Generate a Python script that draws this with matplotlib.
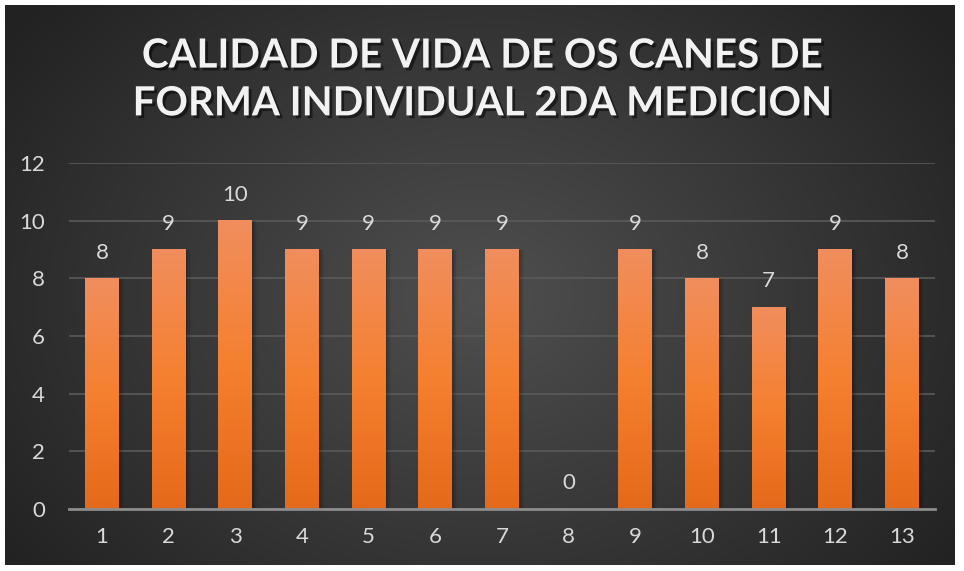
import numpy as np
import matplotlib
matplotlib.use('Agg')
from matplotlib import pyplot as plt
from matplotlib import patheffects as pe
from matplotlib.colors import LinearSegmentedColormap
from matplotlib.patches import Rectangle

# datos
categorias = [str(i) for i in range(1, 14)]
valores = [8, 9, 10, 9, 9, 9, 9, 0, 9, 8, 7, 9, 8]
titulo = 'CALIDAD DE VIDA DE OS CANES DE\nFORMA INDIVIDUAL 2DA MEDICION'
yticks = [0, 2, 4, 6, 8, 10, 12]

plt.rcParams['font.family'] = ['Lato', 'DejaVu Sans']
txt_col = '#D9D9D9'

fig = plt.figure(figsize=(9.64, 5.71), dpi=100, facecolor='white')

# fondo con gradiente radial
bg = fig.add_axes([5/964, 6/571, 950/964, 560/571])
bg.set_axis_off()
h, w = 280, 475
yy, xx = np.mgrid[0:h, 0:w]
cx, cy = w*0.50, h*0.52
r = np.sqrt(((xx-cx)/(w*0.62))**2 + ((yy-cy)/(h*0.80))**2)
r = np.clip(r, 0, 1)
c0 = np.array([0x4f, 0x4f, 0x4f])/255
c1 = np.array([0x22, 0x22, 0x22])/255
img = c0[None, None, :]*(1-r[..., None]) + c1[None, None, :]*r[..., None]
bg.imshow(img, aspect='auto', extent=[0, 1, 0, 1], interpolation='bicubic')
bg.set_xlim(0, 1); bg.set_ylim(0, 1)

ax = fig.add_axes([68.7/964, 1-509/571, (935.3-68.7)/964, (509-163)/571])
ax.patch.set_alpha(0)
x = np.arange(1, 14)
bars = ax.bar(x, valores, width=0.51, color='none', zorder=3)
ax.set_xlim(0.5, 13.5)
ax.set_ylim(0, 12)

cmap = LinearSegmentedColormap.from_list('nar', ['#E5691A', '#F5802F', '#F18E5E'])
grad = np.linspace(0, 1, 256).reshape(-1, 1)
for b in bars:
    hgt = b.get_height()
    if hgt <= 0:
        continue
    x0, wd = b.get_x(), b.get_width()
    # sombra suave
    for k, a in enumerate([0.10, 0.08, 0.06, 0.04]):
        d = 0.02 + k*0.02
        ax.add_patch(Rectangle((x0 + d, 0), wd, hgt - d*0.4, color='black',
                               alpha=a, lw=0, zorder=2))
    ax.imshow(grad, cmap=cmap, origin='lower', aspect='auto',
              extent=[x0, x0 + wd, 0, hgt], zorder=3)
    ax.set_xlim(0.5, 13.5)
    ax.set_ylim(0, 12)

for xi, v in zip(x, valores):
    ax.annotate(str(v), (xi, v), xytext=(0, 18.5), textcoords='offset points',
                ha='center', va='center', color=txt_col, fontsize=16, zorder=5)

ax.set_yticks(yticks)
ax.set_xticks(x)
ax.set_xticklabels(categorias)
ax.tick_params(axis='both', length=0, colors=txt_col, labelsize=16)
ax.tick_params(axis='y', pad=17)
ax.tick_params(axis='x', pad=13)
ax.grid(axis='y', color='#5a5a5a', lw=1.2, zorder=1)
for s in ['top', 'right', 'left']:
    ax.spines[s].set_visible(False)
ax.spines['bottom'].set_color('#8c8c8c')
ax.spines['bottom'].set_linewidth(2)
ax.spines['bottom'].set_zorder(4)

fig.text(0.5, 1-80/571, titulo, ha='center', va='center', color='#F2F2F2',
         fontsize=29, fontweight='bold', linespacing=1.36,
         path_effects=[pe.withSimplePatchShadow(offset=(2, -2), shadow_rgbFace='black', alpha=0.5)])

fig.savefig('out.png', dpi=100, facecolor=fig.get_facecolor())
